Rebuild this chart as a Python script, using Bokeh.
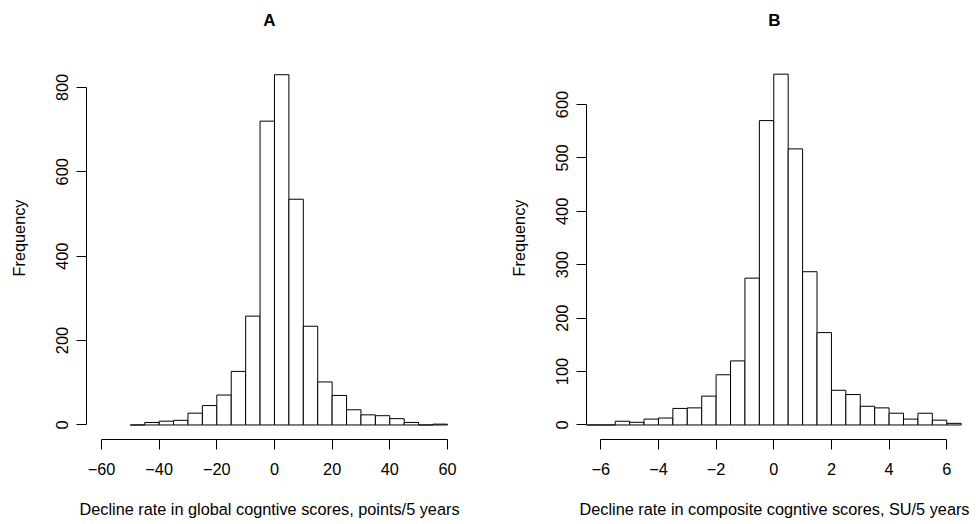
import math
from bokeh.plotting import figure
from bokeh.layouts import row
from bokeh.models import FixedTicker, Range1d, ColumnDataSource
from bokeh.embed import file_html
from bokeh.resources import INLINE

# ---- data ----
a_breaks = [-50, -45, -40, -35, -30, -25, -20, -15, -10, -5, 0, 5, 10,
            15, 20, 25, 30, 35, 40, 45, 50, 55, 60]
a_counts = [0, 6, 9, 11, 28, 46, 71, 127, 258, 720, 830, 535, 234,
            102, 70, 36, 24, 22, 15, 6, 0, 2]
a_xticks = [-60, -40, -20, 0, 20, 40, 60]
a_yticks = [0, 200, 400, 600, 800]

b_breaks = [-6.5, -6.0, -5.5, -5.0, -4.5, -4.0, -3.5, -3.0, -2.5, -2.0, -1.5,
            -1.0, -0.5, 0.0, 0.5, 1.0, 1.5, 2.0, 2.5, 3.0, 3.5, 4.0, 4.5,
            5.0, 5.5, 6.0, 6.5]
b_counts = [0, 0, 7, 5, 11, 13, 31, 32, 54, 94, 120, 275, 570, 657, 517,
            287, 173, 65, 57, 35, 32, 22, 11, 22, 9, 3]
b_xticks = [-6, -4, -2, 0, 2, 4, 6]
b_yticks = [0, 100, 200, 300, 400, 500, 600]

FONT = "Liberation Sans"


def panel(title, breaks, counts, xticks, yticks, xlabel, xr, yr,
          border_left, frame_w, border_right):
    p = figure(frame_width=frame_w, frame_height=403,
               x_range=Range1d(*xr), y_range=Range1d(*yr),
               output_backend="svg", toolbar_location=None,
               min_border_left=border_left, min_border_right=border_right,
               min_border_top=36, min_border_bottom=84)
    src = ColumnDataSource(dict(left=breaks[:-1], right=breaks[1:],
                                top=counts, bottom=[0] * len(counts)))
    p.quad(left="left", right="right", top="top", bottom="bottom", source=src,
           fill_color="white", line_color="black", line_width=1)
    p.outline_line_color = None
    p.grid.visible = False
    p.background_fill_color = "white"
    p.border_fill_color = "white"

    p.title.text = title
    p.title.align = "center"
    p.title.text_font = FONT
    p.title.text_font_size = "17px"
    p.title.text_font_style = "bold"
    p.title.text_color = "black"
    p.title.standoff = 13

    for ax, ticks in ((p.xaxis[0], xticks), (p.yaxis[0], yticks)):
        ax.ticker = FixedTicker(ticks=ticks)
        ax.bounds = (ticks[0], ticks[-1])
        ax.major_tick_out = 10
        ax.major_tick_in = 0
        ax.minor_tick_out = 0
        ax.minor_tick_in = 0
        ax.axis_line_color = "black"
        ax.major_tick_line_color = "black"
        ax.major_label_text_font = FONT
        ax.major_label_text_font_size = "16.3px"
        ax.major_label_text_color = "black"
        ax.axis_label_text_font = FONT
        ax.axis_label_text_font_size = "16.3px"
        ax.axis_label_text_font_style = "normal"
        ax.axis_label_text_color = "black"

    p.xaxis.axis_label = xlabel
    p.xaxis.major_label_standoff = 13
    p.xaxis.axis_label_standoff = 22
    p.yaxis.axis_label = "Frequency"
    p.yaxis.major_label_orientation = "parallel"
    p.yaxis.major_label_standoff = 8
    p.yaxis.axis_label_standoff = 26
    return p


pa = panel("A", a_breaks, a_counts, a_xticks, a_yticks,
           "Decline rate in global cogntive scores, points/5 years",
           (-65.2, 61.75), (-34.4, 920.6), 86, 366, 36)
pb = panel("B", b_breaks, b_counts, b_xticks, b_yticks,
           "Decline rate in composite cogntive scores, SU/5 years",
           (-6.496, 6.546), (-27.2, 727.5), 98, 376, 12)

layout = row(pa, pb)
open("out.html", "w").write(file_html(layout, INLINE))
